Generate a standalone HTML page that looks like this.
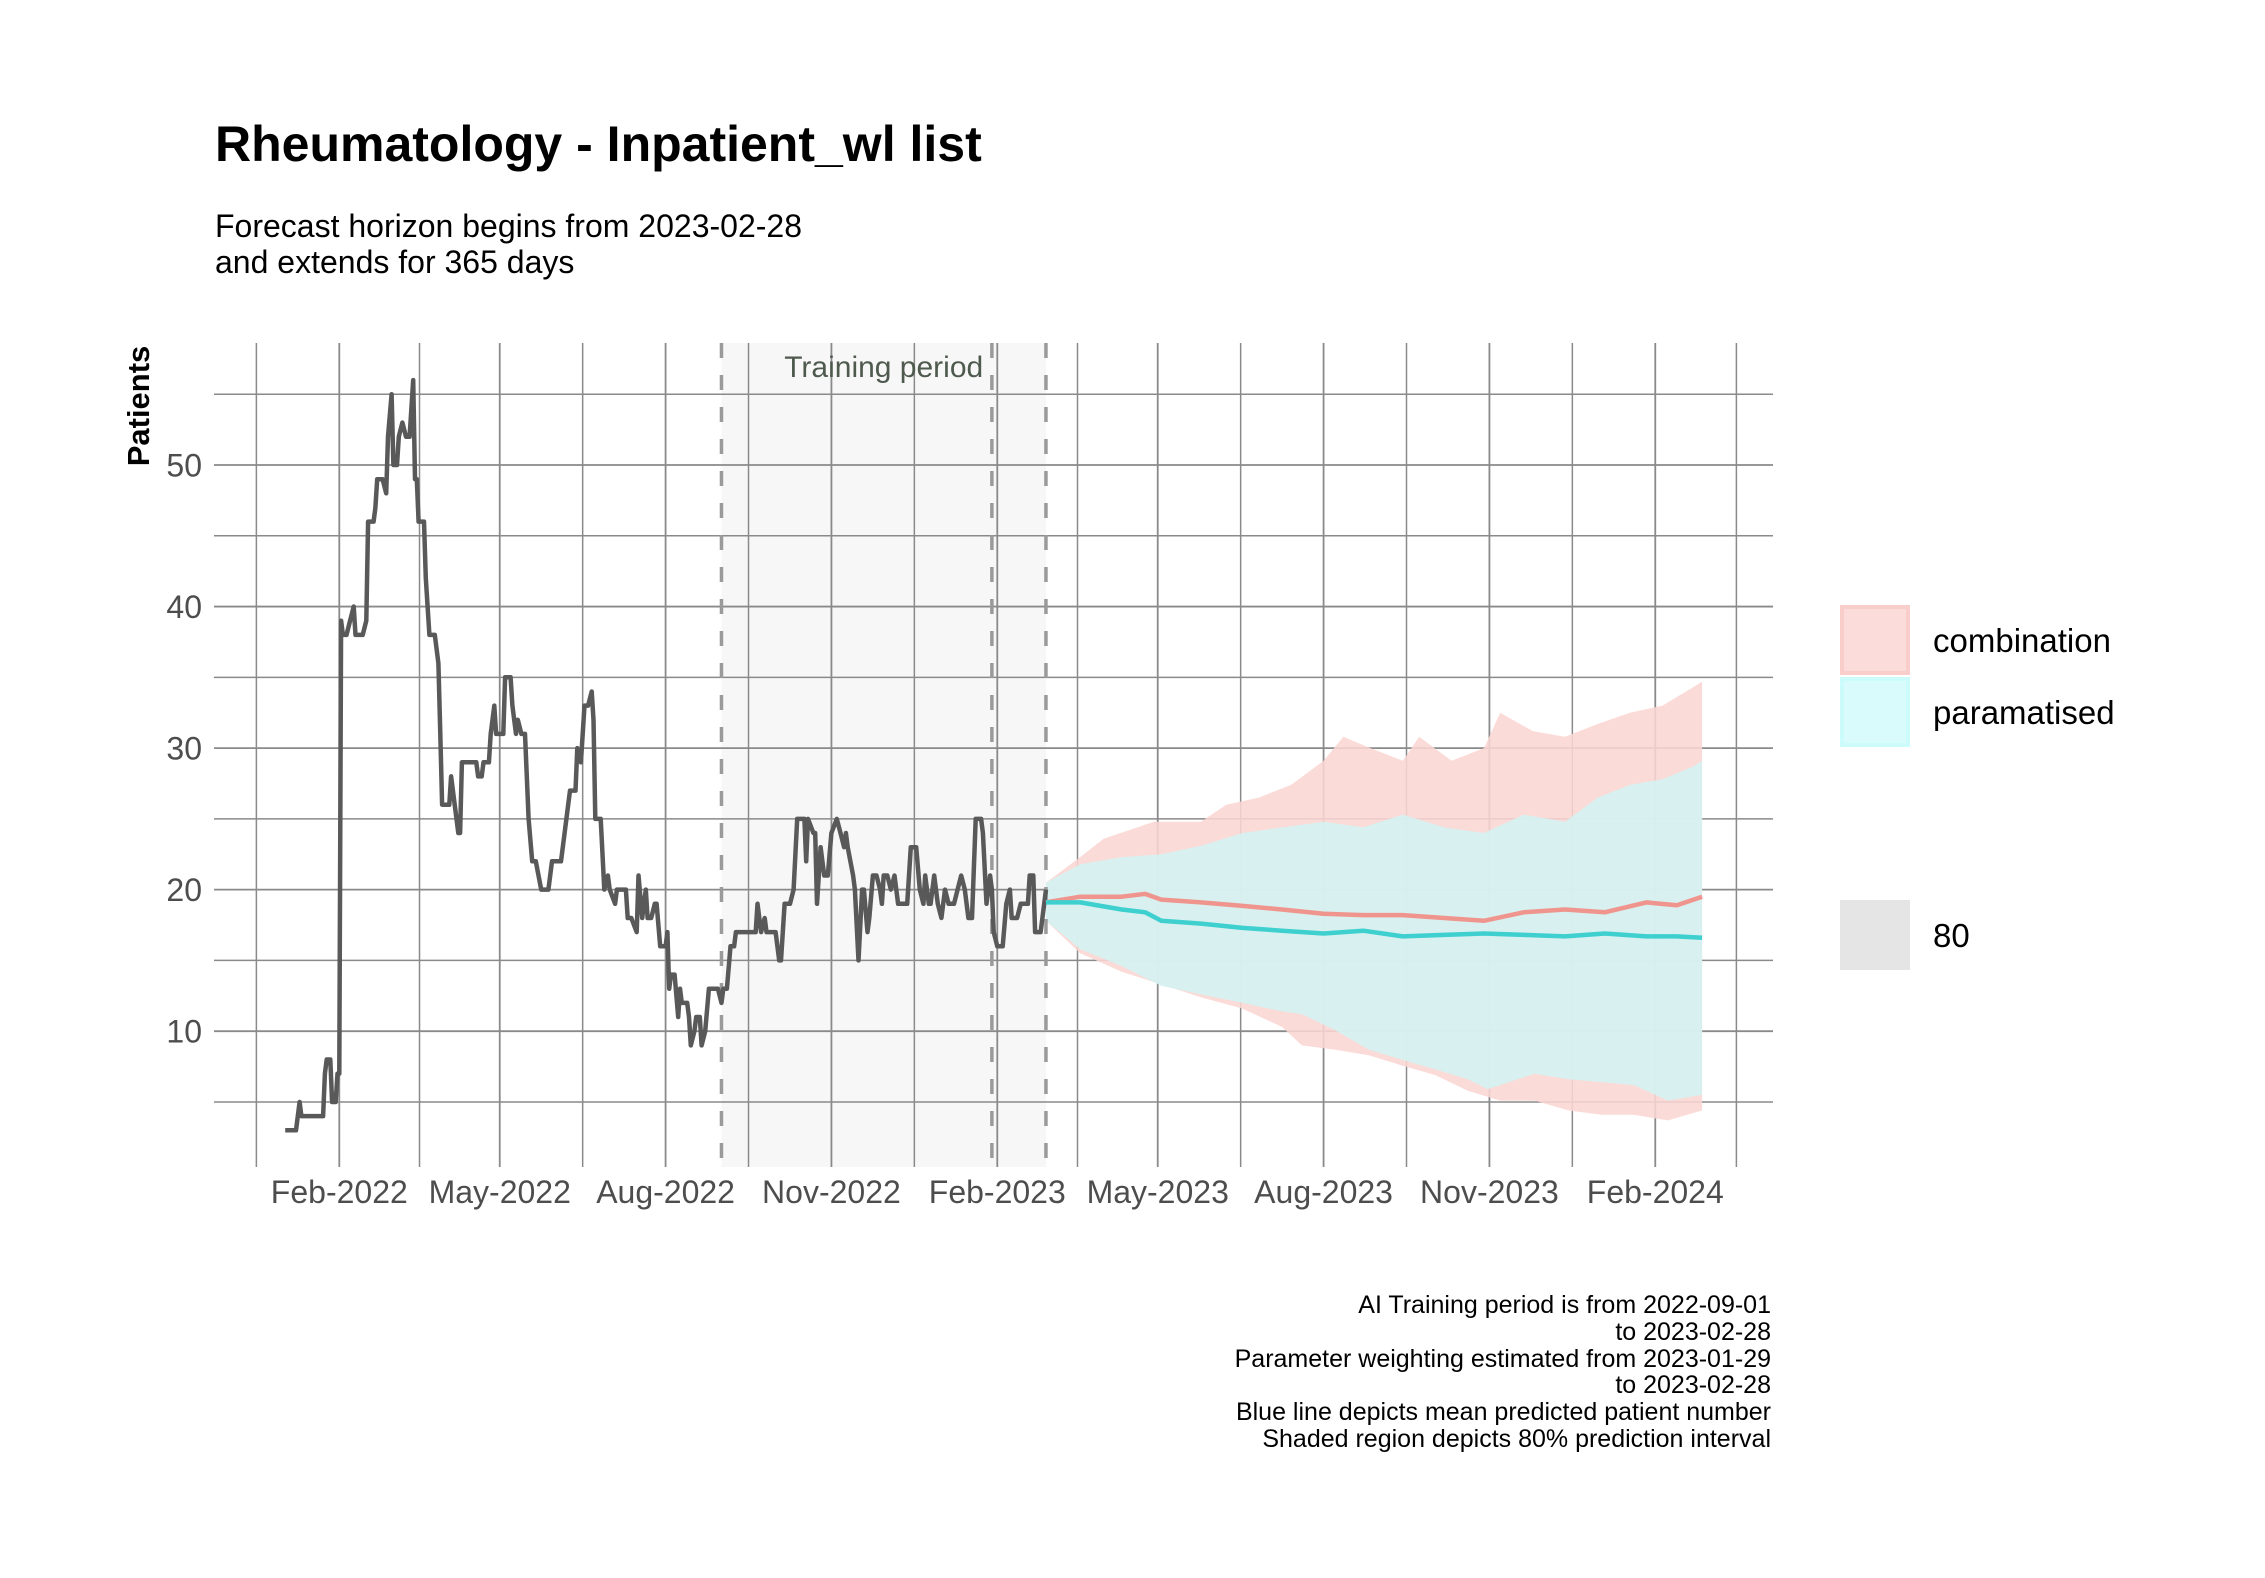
<!DOCTYPE html>
<html><head><meta charset="utf-8"><style>
html,body{margin:0;padding:0;background:#fff;}
svg{display:block;font-family:"Liberation Sans",Arial,sans-serif;}
</style></head><body>
<svg id="chart" width="2265" height="1578" viewBox="0 0 2265 1578" xmlns="http://www.w3.org/2000/svg">
<rect x="0" y="0" width="2265" height="1578" fill="#fff"/>
<text x="215" y="161" font-size="50" font-weight="bold" fill="#000">Rheumatology - Inpatient_wl list</text>
<text x="215" y="237" font-size="32" fill="#000">Forecast horizon begins from 2023-02-28</text>
<text x="215" y="273" font-size="32" fill="#000">and extends for 365 days</text>
<g id="plot"></g>
<text transform="translate(149,406) rotate(-90)" text-anchor="middle" font-size="31" font-weight="bold" fill="#000">Patients</text>
<g font-size="25" fill="#000" text-anchor="end">
<text x="1771" y="1313">AI Training period is from 2022-09-01</text>
<text x="1771" y="1340">to 2023-02-28</text>
<text x="1771" y="1367">Parameter weighting estimated from 2023-01-29</text>
<text x="1771" y="1393">to 2023-02-28</text>
<text x="1771" y="1420">Blue line depicts mean predicted patient number</text>
<text x="1771" y="1447">Shaded region depicts 80% prediction interval</text>
</g>
<g>
<rect x="1842" y="607" width="66" height="66" fill="#fbdcda" stroke="#f9cdca" stroke-width="4"/>
<text x="1933" y="652" font-size="33" fill="#000">combination</text>
<rect x="1842" y="679" width="66" height="66" fill="#d9fbfb" stroke="#ccfbfb" stroke-width="4"/>
<text x="1933" y="724" font-size="33" fill="#000">paramatised</text>
<rect x="1840" y="900" width="70" height="70" fill="#e5e5e5"/>
<text x="1933" y="947" font-size="33" fill="#000">80</text>
</g>
</svg>
<script>
// Data (days since 2022-02-01)
const histDays=[-30,-24,-22,-21,-9,-8,-7,-5,-4,-2,-1,0,1,2,4,6,8,9,13,15,16,19,20,21,24,26,27,29,30,32,33,35,37,39,41,42,43,44,47,48,50,53,55,56,57,61,62,64,66,67,68,76,77,79,80,83,84,86,87,91,92,95,96,98,99,101,103,104,105,107,109,112,116,118,123,125,127,128,131,132,134,136,138,140,141,142,145,147,149,150,153,154,159,160,162,165,166,168,170,171,173,175,176,178,181,182,183,184,186,188,189,190,193,194,195,197,198,200,201,203,205,210,212,213,215,217,219,220,231,232,234,236,237,242,244,245,247,250,252,254,258,259,260,263,264,265,267,269,271,273,276,278,280,281,282,285,286,288,290,291,293,294,296,298,300,301,302,304,306,308,310,315,317,320,322,324,325,327,328,330,332,334,336,338,341,343,345,347,349,351,353,356,357,359,361,362,363,365,368,370,372,373,376,378,382,383,385,386,389,391,392];
const histVals=[3,3,5,4,4,7,8,8,5,5,7,7,39,38,38,39,40,38,38,39,46,46,47,49,49,48,52,55,50,50,52,53,52,52,56,49,49,46,46,42,38,38,36,31,26,26,28,26,24,24,29,29,28,28,29,29,31,33,31,31,35,35,33,31,32,31,31,28,25,22,22,20,20,22,22,24,26,27,27,30,29,33,33,34,32,25,25,20,21,20,19,20,20,18,18,17,21,18,20,18,18,19,19,16,16,17,13,14,14,11,13,12,12,11,9,10,11,11,9,10,13,13,12,13,13,16,16,17,17,19,17,18,17,17,15,15,19,19,20,25,25,22,25,24,24,19,23,21,21,24,25,24,23,24,23,21,20,15,20,20,17,18,21,21,20,19,21,21,20,21,19,19,23,23,20,19,21,19,19,21,19,18,20,19,19,20,21,20,18,18,25,25,24,19,21,20,17,16,16,19,20,18,18,19,19,21,21,17,17,19,20];
const meanDays=[392,411,434,447,456,478,501,523,546,568,590,613,635,657,680,702,725,742,756];
const combMean=[19.1,19.5,19.5,19.7,19.3,19.1,18.85,18.6,18.3,18.2,18.2,18.0,17.8,18.4,18.6,18.4,19.1,18.9,19.5];
const paraMean=[19.1,19.1,18.6,18.4,17.8,17.6,17.3,17.1,16.9,17.1,16.7,16.8,16.9,16.8,16.7,16.9,16.7,16.7,16.6];
const combUpDays=[392,411,424,452,478,492,510,528,546,557,572,590,599,617,635,644,662,680,698,716,734,751,756];
const combUp=[20.5,22.3,23.6,24.8,24.8,26,26.5,27.4,29.1,30.8,30,29.1,30.8,29.1,30,32.5,31.2,30.8,31.7,32.5,33,34.3,34.7];
const combLoDays=[392,411,434,456,478,501,523,534,552,571,589,608,626,644,663,682,700,718,737,756];
const combLo=[17.8,15.5,14.2,13.3,12.4,11.6,10.3,9.0,8.7,8.3,7.6,6.9,5.8,5.1,5.1,4.4,4.1,4.1,3.7,4.4];
const paraUpDays=[392,411,434,456,478,501,523,546,568,590,613,635,657,680,698,716,734,751,756];
const paraUp=[20.5,21.8,22.3,22.5,23.1,24,24.4,24.8,24.4,25.3,24.4,24,25.3,24.8,26.5,27.4,27.8,28.7,29.1];
const paraLoDays=[392,411,434,456,478,501,523,534,552,571,589,608,626,637,663,682,718,737,756];
const paraLo=[17.8,15.8,14.6,13.2,12.6,12.0,11.4,11.2,10.1,8.7,8.0,7.3,6.6,5.9,7.0,6.6,6.2,5.1,5.5];
const xTickDays=[0,89,181,273,365,454,546,638,730];
const xTickLabels=["Feb-2022","May-2022","Aug-2022","Nov-2022","Feb-2023","May-2023","Aug-2023","Nov-2023","Feb-2024"];
const yTicks=[10,20,30,40,50];
const yMinor=[5,15,25,35,45,55];
const trainStart=212, weightStart=362, trainEnd=392;

const NS="http://www.w3.org/2000/svg";
const P={l:214,r:1773,t:343,b:1167};
const x=d=>339.3+d*1.8027;
const y=v=>465+(50-v)*14.155;
const g=document.getElementById('plot');
function mk(tag,attrs,parent){const e=document.createElementNS(NS,tag);for(const k in attrs)e.setAttribute(k,attrs[k]);(parent||g).appendChild(e);return e;}
function pts(ds,vs){return ds.map((d,i)=>x(d).toFixed(1)+','+y(vs[i]).toFixed(1));}

let sh=mk('rect',{x:x(trainStart),y:P.t,width:x(trainEnd)-x(trainStart),height:P.b-P.t,fill:'#f7f7f7'});



const allX=[-92].concat(xTickDays).concat([820]);
for(let i=0;i<allX.length-1;i++){
  const m=(allX[i]+allX[i+1])/2;
  const l=mk('line',{x1:x(m),x2:x(m),y1:P.t,y2:P.b,stroke:'#8a8a8a','stroke-width':1.5});
  
  
}
xTickDays.forEach((d,i)=>{
  const l=mk('line',{x1:x(d),x2:x(d),y1:P.t,y2:P.b,stroke:'#8a8a8a','stroke-width':1.8});
  
  
  const t=mk('text',{x:x(d),y:1203,'text-anchor':'middle','font-size':32,fill:'#4d4d4d'});
  t.textContent=xTickLabels[i];
  
  
});
yMinor.forEach(v=>{
  const l=mk('line',{x1:P.l,x2:P.r,y1:y(v),y2:y(v),stroke:'#8a8a8a','stroke-width':1.5});
  
  
});
yTicks.forEach(v=>{
  const l=mk('line',{x1:P.l,x2:P.r,y1:y(v),y2:y(v),stroke:'#8a8a8a','stroke-width':1.8});
  
  
  const t=mk('text',{x:202,y:y(v)+11.5,'text-anchor':'end','font-size':32,fill:'#4d4d4d'});
  t.textContent=v;
  
  
});

const cb=mk('polygon',{points:pts(combUpDays,combUp).concat(pts(combLoDays,combLo).reverse()).join(' '),fill:'#fad6d3','fill-opacity':0.88});


const pb=mk('polygon',{points:pts(paraUpDays,paraUp).concat(pts(paraLoDays,paraLo).reverse()).join(' '),fill:'#d3f2f1','fill-opacity':0.88});



[trainStart,weightStart,trainEnd].forEach(d=>{
  const l=mk('line',{x1:x(d),x2:x(d),y1:P.t,y2:P.b,stroke:'#9a9a9a','stroke-width':3.5,'stroke-dasharray':'15 17'});
  
  
});
const tp=mk('text',{x:(x(trainStart)+x(trainEnd))/2,y:377,'text-anchor':'middle','font-size':30,fill:'#4f5a4f'});
tp.textContent='Training period';



const hl=mk('polyline',{points:pts(histDays,histVals).join(' '),fill:'none',stroke:'#595959','stroke-width':4.5,'stroke-linejoin':'round'});


const cl=mk('polyline',{points:pts(meanDays,combMean).join(' '),fill:'none',stroke:'#ef958e','stroke-width':4.5,'stroke-linejoin':'round'});


const pl=mk('polyline',{points:pts(meanDays,paraMean).join(' '),fill:'none',stroke:'#3ecfcf','stroke-width':4.5,'stroke-linejoin':'round'});


</script>
</body></html>
